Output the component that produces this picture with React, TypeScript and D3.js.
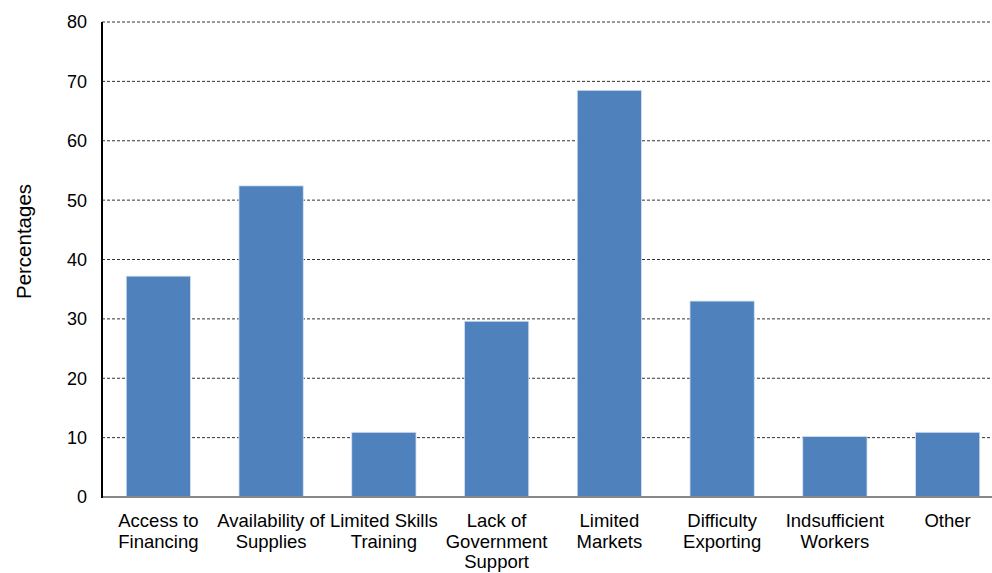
import React from "react";
import * as d3 from "d3";

const categories: string[][] = [
  ["Access to", "Financing"],
  ["Availability of", "Supplies"],
  ["Limited Skills", "Training"],
  ["Lack of", "Government", "Support"],
  ["Limited", "Markets"],
  ["Difficulty", "Exporting"],
  ["Indsufficient", "Workers"],
  ["Other"],
];
const values: number[] = [37.2, 52.4, 10.9, 29.6, 68.5, 33.0, 10.2, 10.9];
const yTicks: number[] = [0, 10, 20, 30, 40, 50, 60, 70, 80];

const W = 992;
const H = 573;
const left = 102;
const right = 1004;
const top = 22;
const bottom = 497;
const font = "'Liberation Sans', Arial, sans-serif";

export default function App() {
  const keys = categories.map((c) => c.join(" "));
  const x = d3.scaleBand<string>().domain(keys).range([left, right]).paddingInner(0.43).paddingOuter(0.215);
  const y = d3.scaleLinear().domain([0, 80]).range([bottom, top]);

  return (
    <svg width={W} height={H} style={{ position: "absolute", left: 0, top: 0, background: "#fff" }}>
      {yTicks.filter((t) => t > 0).map((t) => (
        <line key={t} x1={left} x2={right} y1={y(t)} y2={y(t)} stroke="#333" strokeWidth={1} strokeDasharray="3,2" />
      ))}
      {values.map((v, i) => (
        <rect
          key={keys[i]}
          x={x(keys[i])!}
          y={y(v)}
          width={x.bandwidth()}
          height={bottom - y(v)}
          fill="#4F81BD"
          stroke="#D6E2F0"
          strokeWidth={0.8}
        />
      ))}
      <line x1={left} x2={right} y1={bottom} y2={bottom} stroke="#888" strokeWidth={2} />
      <line x1={left} x2={left} y1={top} y2={bottom + 1} stroke="#000" strokeWidth={2} />
      {yTicks.map((t) => (
        <text key={t} x={left - 15} y={y(t)} dy="0.36em" textAnchor="end" fontFamily={font} fontSize={18} fill="#000">
          {t}
        </text>
      ))}
      {categories.map((lines, i) => (
        <text key={keys[i]} textAnchor="middle" fontFamily={font} fontSize={18.5} fill="#000">
          {lines.map((l, j) => (
            <tspan key={j} x={x(keys[i])! + x.bandwidth() / 2} y={527 + j * 20.5}>
              {l}
            </tspan>
          ))}
        </text>
      ))}
      <text
        transform={`translate(31,241.5) rotate(-90)`}
        textAnchor="middle"
        fontFamily={font}
        fontSize={20.5}
        fill="#000"
      >
        Percentages
      </text>
    </svg>
  );
}
